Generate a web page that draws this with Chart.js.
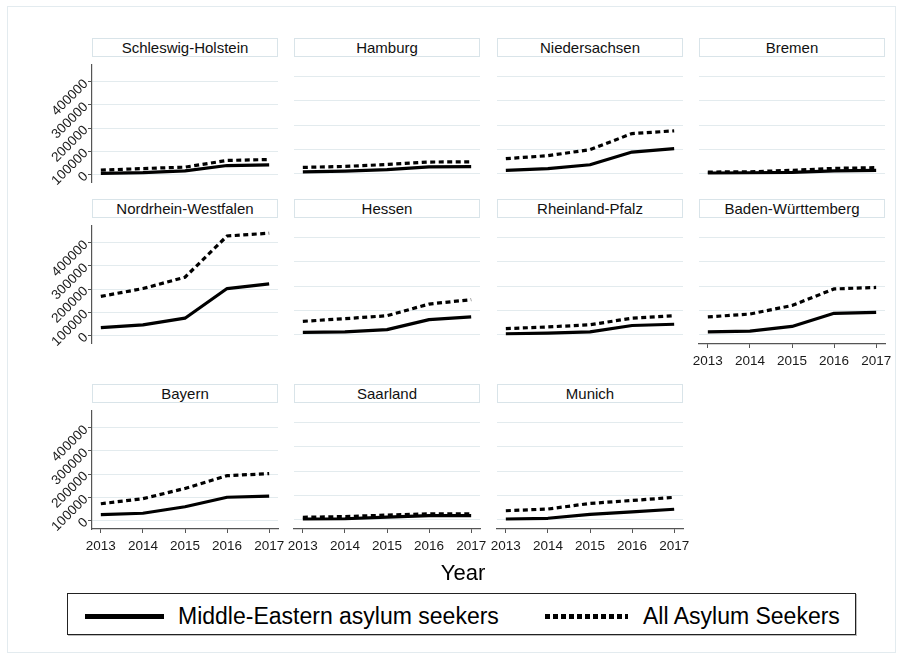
<!DOCTYPE html>
<html>
<head>
<meta charset="utf-8">
<script src="https://cdn.jsdelivr.net/npm/chart.js@4.4.1/dist/chart.umd.min.js"></script>
<style>
  html, body { margin: 0; padding: 0; background: #fff; }
  body { width: 902px; height: 659px; position: relative; overflow: hidden;
         font-family: "Liberation Sans", Arial, sans-serif; color: #000; }
  .frame { position: absolute; left: 7px; top: 6px; width: 889px; height: 647px;
           border: 1px solid #e3ebef; box-sizing: border-box; }
  canvas { position: absolute; }
  .strip { position: absolute; height: 19px; box-sizing: border-box; border: 1px solid #d9e4e9;
           background: #fff; font-size: 15px; line-height: 17px; text-align: center;
           color: #111; white-space: nowrap; }
  .xtitle { position: absolute; left: 363px; top: 562px; width: 200px; text-align: center;
            font-size: 22px; line-height: 22px; }
  .legend { position: absolute; left: 67px; top: 593px; width: 789px; height: 42px;
            box-sizing: border-box; border: 1.3px solid #222; background: #fff;
            box-shadow: 1px 1px 0 #bdbdbd; }
  .legend .txt { position: absolute; font-size: 23px; line-height: 23px; white-space: nowrap; top: 11px; }
  .legend .solid { position: absolute; left: 17px; top: 20px; width: 79px; height: 5px; background: #000; }
  .legend .dashed { position: absolute; left: 477px; top: 20px; width: 83px; height: 5px;
                    background: repeating-linear-gradient(to right, #000 0 5px, transparent 5px 8px); }
</style>
</head>
<body>
<div class="frame"></div>

<script>
// Years on the x axis and tick values on the y axis
const years = [2013, 2014, 2015, 2016, 2017];
const yTicks = [0, 100000, 200000, 300000, 400000];

// Middle-Eastern asylum seekers (me) and all asylum seekers (all), per region
const meSchleswigHolstein   = [4000, 7000, 15000, 38000, 41000];
const allSchleswigHolstein  = [18000, 25000, 31000, 60000, 64000];
const meHamburg             = [9000, 12000, 18000, 29000, 30000];
const allHamburg            = [27000, 31000, 39000, 49000, 50000];
const meNiedersachsen       = [15000, 22000, 38000, 90000, 104000];
const allNiedersachsen      = [63000, 75000, 100000, 166000, 177000];
const meBremen              = [4000, 5000, 7000, 13000, 15000];
const allBremen             = [8000, 9000, 15000, 23000, 26000];
const meNordrheinWestfalen  = [33000, 45000, 74000, 202000, 222000];
const allNordrheinWestfalen = [168000, 202000, 251000, 429000, 441000];
const meHessen              = [11000, 13000, 22000, 63000, 74000];
const allHessen             = [56000, 67000, 79000, 127000, 145000];
const meRheinlandPfalz      = [5000, 8000, 13000, 39000, 44000];
const allRheinlandPfalz     = [26000, 33000, 42000, 69000, 79000];
const meBadenWuerttemberg   = [13000, 16000, 35000, 89000, 93000];
const allBadenWuerttemberg  = [74000, 86000, 121000, 189000, 195000];
const meBayern              = [25000, 31000, 59000, 100000, 105000];
const allBayern             = [72000, 94000, 138000, 193000, 202000];
const meSaarland            = [4000, 5000, 12000, 18000, 18000];
const allSaarland           = [11000, 14000, 20000, 25000, 25000];
const meMunich              = [4000, 7000, 23000, 33000, 44000];
const allMunich             = [38000, 45000, 68000, 80000, 93000];

const seriesLabels = ['Middle-Eastern asylum seekers', 'All Asylum Seekers'];

const panels = [
  { title: 'Schleswig-Holstein',  me: meSchleswigHolstein,  all: allSchleswigHolstein },
  { title: 'Hamburg',             me: meHamburg,            all: allHamburg },
  { title: 'Niedersachsen',       me: meNiedersachsen,      all: allNiedersachsen },
  { title: 'Bremen',              me: meBremen,             all: allBremen },
  { title: 'Nordrhein-Westfalen', me: meNordrheinWestfalen, all: allNordrheinWestfalen },
  { title: 'Hessen',              me: meHessen,             all: allHessen },
  { title: 'Rheinland-Pfalz',     me: meRheinlandPfalz,     all: allRheinlandPfalz },
  { title: 'Baden-Württemberg',   me: meBadenWuerttemberg,  all: allBadenWuerttemberg },
  { title: 'Bayern',              me: meBayern,             all: allBayern },
  { title: 'Saarland',            me: meSaarland,           all: allSaarland },
  { title: 'Munich',              me: meMunich,             all: allMunich }
];

// Grid geometry of the small multiples
const NCOL = 4;
const plotLeft = [92, 294, 497, 699];
const plotTop = [58, 219, 404];
const PW = 186, PH = 125;
const Y_AXIS_W = 84, X_AXIS_H = 30;

const FONT = "'Liberation Sans', Arial, sans-serif";
const AXIS_COLOR = '#555';
const GRID_COLOR = '#e3ebee';

panels.forEach((p, i) => {
  const col = i % NCOL, row = Math.floor(i / NCOL);
  const showY = col === 0;
  const showX = i + NCOL >= panels.length;   // nothing drawn below this panel
  const padL = showY ? 0 : 14, padR = 14, padT = 4, padB = showX ? 2 : 10;
  const yW = showY ? Y_AXIS_W : 0, xH = showX ? X_AXIS_H : 0;

  const cv = document.createElement('canvas');
  cv.width = padL + yW + PW + padR;
  cv.height = padT + PH + xH + padB;
  cv.style.left = (plotLeft[col] - yW - padL) + 'px';
  cv.style.top = (plotTop[row] - padT) + 'px';
  document.body.appendChild(cv);

  const strip = document.createElement('div');
  strip.className = 'strip';
  strip.textContent = p.title;
  strip.style.left = plotLeft[col] + 'px';
  strip.style.top = (plotTop[row] - 20) + 'px';
  strip.style.width = PW + 'px';
  document.body.appendChild(strip);

  new Chart(cv, {
    type: 'line',
    data: {
      datasets: [
        {
          label: seriesLabels[0],
          data: years.map((y, k) => ({ x: y, y: p.me[k] })),
          borderColor: '#000', borderWidth: 3.2, borderJoinStyle: 'round',
          pointRadius: 0, tension: 0, order: 1
        },
        {
          label: seriesLabels[1],
          data: years.map((y, k) => ({ x: y, y: p.all[k] })),
          borderColor: '#000', borderWidth: 3.2, borderDash: [5, 3.5],
          pointRadius: 0, tension: 0, order: 0
        }
      ]
    },
    options: {
      responsive: false,
      animation: false,
      devicePixelRatio: 1,
      events: [],
      layout: { autoPadding: false, padding: { left: padL, right: padR, top: padT, bottom: padB } },
      plugins: { legend: { display: false }, tooltip: { enabled: false } },
      scales: {
        x: {
          type: 'linear', bounds: 'data', min: 2012.79, max: 2017.21,
          display: showX,
          afterBuildTicks: s => { s.ticks = years.map(v => ({ value: v })); },
          afterFit: s => { if (showX) s.height = X_AXIS_H; },
          ticks: { autoSkip: false, maxRotation: 0, minRotation: 0, padding: 5,
                   color: '#1a1a1a', font: { family: FONT, size: 13.5 },
                   callback: v => String(v) },
          grid: { drawOnChartArea: false, drawTicks: true, tickLength: 4, tickColor: AXIS_COLOR, tickWidth: 1 },
          border: { display: true, color: AXIS_COLOR, width: 1.2 }
        },
        y: {
          type: 'linear', bounds: 'data', min: -37000, max: 476000,
          afterBuildTicks: s => { s.ticks = yTicks.map(v => ({ value: v })); },
          afterFit: s => { s.width = yW; },
          ticks: { display: showY, autoSkip: false, minRotation: 45, maxRotation: 45, padding: 2,
                   color: '#1a1a1a', font: { family: FONT, size: 13.5 },
                   callback: v => String(v) },
          grid: { color: GRID_COLOR, lineWidth: 1, drawTicks: showY, tickLength: 4,
                  tickColor: AXIS_COLOR, tickWidth: 1 },
          border: { display: showY, color: AXIS_COLOR, width: 1.2 }
        }
      }
    }
  });
});
</script>

<div class="xtitle">Year</div>
<div class="legend">
  <div class="solid"></div>
  <div class="txt" style="left:110px">Middle-Eastern asylum seekers</div>
  <div class="dashed"></div>
  <div class="txt" style="left:575px">All Asylum Seekers</div>
</div>
</body>
</html>
